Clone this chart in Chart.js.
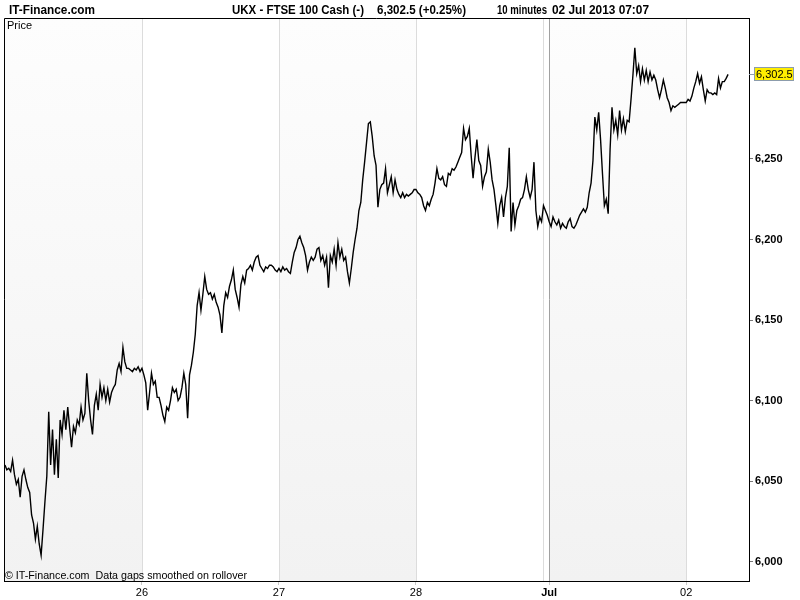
<!DOCTYPE html>
<html lang="en">
<head>
<meta charset="UTF-8">
<title>UKX - FTSE 100 Cash</title>
<style>
  body { margin: 0; background: #fff; }
  #chart { display: block; }
</style>
</head>
<body>
<canvas id="chart" width="800" height="600"></canvas>
<script src="https://cdn.jsdelivr.net/npm/chart.js"></script>
<script>
  // 20 minute closes, one array per session (weekend removed)
  const jun25 = [6060,6057,6058,6056,6063,6054,6048,6051,6040,6053,
    6057,6051,6046,6043,6029,6024,6014,6022,6011,6004,
    6020,6037,6053,6093,6060,6082,6054,6076,6052,6088,
    6079,6094,6082,6096,6083,6071,6084,6080,6088,6085,
    6096,6088,6092,6117,6100,6088,6079,6097,6104,6094,
    6110,6102,6108,6100,6107,6099,6105,6108,6110,6119,
    6123,6118,6133,6124,6120,6120,6119,6118,6120,6119,
    6121,6118];
  const jun26 = [6120,6116,6111,6094,6105,6117,6110,6112,6102,6102,
    6097,6091,6087,6096,6094,6100,6108,6105,6107,6100,
    6102,6108,6117,6110,6089,6116,6122,6130,6141,6159,
    6167,6156,6166,6177,6169,6166,6167,6163,6166,6161,
    6158,6153,6142,6159,6167,6164,6171,6175,6181,6169,
    6164,6158,6172,6177,6173,6181,6182,6184,6181,6186,
    6189,6190,6184,6182,6180,6183,6182,6184,6184,6183,
    6181,6180];
  const jun27 = [6182,6180,6183,6181,6182,6180,6179,6186,6192,6195,
    6200,6202,6198,6195,6190,6181,6186,6189,6187,6189,
    6194,6195,6187,6190,6184,6189,6170,6190,6186,6194,
    6184,6198,6189,6194,6187,6189,6180,6173,6182,6192,
    6200,6207,6218,6223,6237,6248,6260,6272,6273,6264,
    6252,6246,6220,6231,6234,6235,6244,6229,6234,6239,
    6229,6237,6231,6228,6226,6229,6226,6228,6227,6228,
    6229,6231];
  const jun28 = [6231,6229,6228,6226,6221,6218,6223,6221,6225,6228,
    6235,6244,6238,6237,6239,6234,6233,6241,6240,6244,
    6243,6245,6248,6251,6254,6269,6262,6264,6269,6252,
    6238,6251,6262,6249,6246,6233,6239,6242,6256,6248,
    6237,6231,6221,6210,6221,6226,6214,6226,6233,6257,
    6205,6223,6209,6218,6221,6225,6226,6231,6239,6231,
    6226,6231,6248,6218,6208,6214,6211,6221,6218,6215];
  const jul01 = [6211,6208,6214,6211,6209,6212,6207,6210,6208,6207,
    6211,6213,6208,6207,6209,6212,6215,6217,6219,6217,
    6220,6229,6235,6249,6276,6268,6279,6262,6241,6221,
    6225,6216,6256,6282,6268,6274,6265,6280,6268,6275,
    6267,6274,6273,6287,6302,6319,6303,6308,6298,6306,
    6299,6305,6298,6304,6299,6302,6299,6293,6288,6293,
    6299,6294,6288,6285,6280,6283,6282,6283,6284,6285,
    6285,6285];
  const jul02 = [6285,6287,6286,6289,6294,6298,6303,6297,6301,6293,
    6286,6293,6291,6291,6290,6291,6290,6300,6294,6298,
    6298,6300,6302.5];

  const sessions = [jun25, jun26, jun27, jun28, jul01, jul02];
  const sessionStart = [0, 72, 144, 216, 286, 358];  // bar index where each session starts
  const tickPos = [72, 144, 216, 286, 358];
  const tickLabels = ['26', '27', '28', 'Jul', '02'];
  const yTicks = [6000, 6050, 6100, 6150, 6200, 6250];
  const lastPrice = 6302.5;

  const points = [];
  sessions.forEach((s, k) => {
    s.forEach((v, j) => points.push({ x: sessionStart[k] + j, y: v }));
  });

  const FONT = 'Liberation Sans, Arial, sans-serif';

  const framePlugin = {
    id: 'frame',
    beforeDraw(chart) {
      const ctx = chart.ctx;
      const a = chart.chartArea;
      const xs = chart.scales.x;
      ctx.save();
      ctx.fillStyle = '#fff';
      ctx.fillRect(0, 0, chart.width, chart.height);

      // alternating day bands
      const grad = ctx.createLinearGradient(0, a.top, 0, a.bottom);
      grad.addColorStop(0, '#fdfdfd');
      grad.addColorStop(1, '#f2f2f2');
      const edges = [xs.min, 72, 144, 216, 286, 358, xs.max];
      for (let i = 0; i < edges.length - 1; i += 2) {
        const x0 = xs.getPixelForValue(edges[i]);
        const x1 = xs.getPixelForValue(edges[i + 1]);
        ctx.fillStyle = grad;
        ctx.fillRect(x0, a.top, x1 - x0, a.bottom - a.top);
      }

      // day grid lines
      ctx.lineWidth = 1;
      [72, 144, 216, 283, 358].forEach(v => {
        const x = Math.round(xs.getPixelForValue(v)) + 0.5;
        ctx.strokeStyle = '#dcdcdc';
        ctx.beginPath(); ctx.moveTo(x, a.top); ctx.lineTo(x, a.bottom); ctx.stroke();
      });
      const xm = Math.round(xs.getPixelForValue(286)) + 0.5;
      ctx.strokeStyle = '#a0a0a0';
      ctx.beginPath(); ctx.moveTo(xm, a.top); ctx.lineTo(xm, a.bottom); ctx.stroke();
      ctx.restore();
    },
    afterDraw(chart) {
      const ctx = chart.ctx;
      const a = chart.chartArea;
      ctx.save();
      // left and top frame
      ctx.strokeStyle = '#000';
      ctx.lineWidth = 1;
      ctx.beginPath();
      ctx.moveTo(a.left + 0.5, a.bottom);
      ctx.lineTo(a.left + 0.5, a.top + 0.5);
      ctx.lineTo(a.right, a.top + 0.5);
      ctx.stroke();

      ctx.fillStyle = '#000';
      ctx.textBaseline = 'alphabetic';
      ctx.font = 'bold 12px ' + FONT;
      ctx.fillText('IT-Finance.com', 9, 14, 86);
      ctx.fillText('UKX - FTSE 100 Cash (-)', 232, 14, 132);
      ctx.fillText('6,302.5 (+0.25%)', 377, 14, 89);
      ctx.fillText('10 minutes', 497, 14, 50);
      ctx.fillText('02 Jul 2013 07:07', 552, 14, 97);

      ctx.font = '11px ' + FONT;
      ctx.fillText('Price', 7, 29);
      ctx.fillText('\u00A9 IT-Finance.com  Data gaps smoothed on rollover', 5, 579, 242);

      // last price marker
      const py = Math.round(chart.scales.y.getPixelForValue(lastPrice));
      ctx.strokeStyle = '#8c9cac';
      ctx.beginPath(); ctx.moveTo(a.right, py + 0.5); ctx.lineTo(a.right + 5, py + 0.5); ctx.stroke();
      ctx.fillStyle = '#ffee00';
      ctx.fillRect(754, py - 7, 40, 14);
      ctx.strokeRect(754.5, py - 6.5, 39, 13);
      ctx.fillStyle = '#000';
      ctx.textBaseline = 'middle';
      ctx.fillText(lastPrice.toLocaleString('en-US', { minimumFractionDigits: 1 }), 756, py + 1, 37);
      ctx.restore();
    }
  };

  new Chart(document.getElementById('chart'), {
    type: 'line',
    data: {
      datasets: [{
        data: points,
        borderColor: '#000',
        borderWidth: 1.4,
        pointRadius: 0,
        tension: 0
      }]
    },
    options: {
      responsive: false,
      animation: false,
      layout: { padding: { left: 4, top: 18, right: 0, bottom: 0 } },
      plugins: { legend: { display: false }, tooltip: { enabled: false } },
      scales: {
        x: {
          type: 'linear',
          min: -0.5,
          max: 391,
          afterFit: s => { s.height = 19; },
          afterBuildTicks: s => { s.ticks = tickPos.map(v => ({ value: v })); },
          grid: { drawOnChartArea: false, tickLength: 4, color: '#c8c8c8' },
          border: { color: '#000' },
          ticks: {
            color: '#000',
            padding: 1,
            maxRotation: 0,
            autoSkip: false,
            font: c => ({ family: FONT, size: 11, weight: tickLabels[c.index] === 'Jul' ? 'bold' : 'normal' }),
            callback: (v, i) => tickLabels[i]
          }
        },
        y: {
          position: 'right',
          min: 5988,
          max: 6337.5,
          afterFit: s => { s.width = 51; },
          afterBuildTicks: s => { s.ticks = yTicks.map(v => ({ value: v })); },
          grid: { drawOnChartArea: false, tickLength: 4, color: '#777' },
          border: { color: '#000' },
          ticks: {
            color: '#000',
            padding: 2,
            font: { family: FONT, size: 11, weight: 'bold' },
            callback: v => v.toLocaleString('en-US')
          }
        }
      }
    },
    plugins: [framePlugin]
  });
</script>
</body>
</html>
